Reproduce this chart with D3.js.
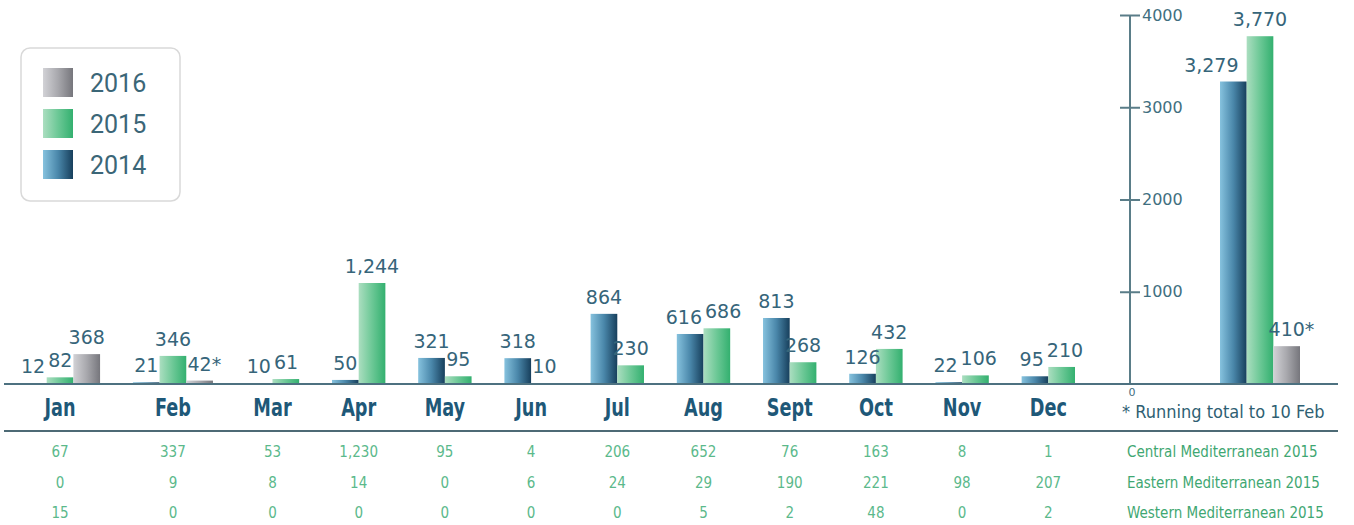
<!DOCTYPE html>
<meta charset="utf-8">
<style>
body { margin:0; background:#fff; }
svg { display:block; }
.lbl { font-family:"DejaVu Sans", sans-serif; font-size:19px; fill:#36657a; }
.month { font-family:"DejaVu Sans Condensed", sans-serif; font-weight:bold; font-size:24px; fill:#1e5878; }
.cell { font-family:"DejaVu Sans Condensed", sans-serif; font-size:15px; fill:#5bb98b; }
.rowname { font-family:"DejaVu Sans Condensed", sans-serif; font-size:15px; fill:#3fa772; }
.note { font-family:"DejaVu Sans Condensed", sans-serif; font-size:18px; fill:#2f5f73; }
.yAxis text { font-family:"DejaVu Sans", sans-serif; font-size:16px; fill:#3f6f80; }
.yAxis path, .yAxis line { stroke:#5a7d88; stroke-width:2px; }
.legend text { font-family:Roboto, sans-serif; font-size:25px; fill:#3b6677; }
</style>
<body>
<div id="chart"></div>
<script src="https://d3js.org/d3.v7.min.js"></script>
<script>
// data
var months = ["Jan","Feb","Mar","Apr","May","Jun","Jul","Aug","Sept","Oct","Nov","Dec"];
var v2014 = [12, 21, 10, 50, 321, 318, 864, 616, 813, 126, 22, 95];
var v2015 = [82, 346, 61, 1244, 95, 10, 230, 686, 268, 432, 106, 210];
var v2016 = [368, 42, null, null, null, null, null, null, null, null, null, null];
var starred2016 = [false, true];            // Feb 2016 is a running total
var totals = [3279, 3770, 410];              // 2014, 2015, 2016
var totalStar = [false, false, true];
var years = ["2014", "2015", "2016"];
var legendYears = ["2016", "2015", "2014"];
var axisTicks = [1000, 2000, 3000, 4000];
var rowNames = ["Central Mediterranean 2015", "Eastern Mediterranean 2015", "Western Mediterranean 2015"];
var central2015 = [67, 337, 53, 1230, 95, 4, 206, 652, 76, 163, 8, 1];
var eastern2015 = [0, 9, 8, 14, 0, 6, 24, 29, 190, 221, 98, 207];
var western2015 = [15, 0, 0, 0, 0, 0, 0, 5, 2, 48, 0, 2];
var noteText = "* Running total to 10 Feb";

var W = 1354, H = 525;
var base = 384;
var fmt = d3.format(",");

var svg = d3.select("#chart").append("svg").attr("width", W).attr("height", H);

// gradients for the bar fills
var grads = {
  "2014": ["#86c2de", "#4a87aa", "#173f5c"],
  "2015": ["#abdec0", "#6cc896", "#33b06f"],
  "2016": ["#d2d2d6", "#a8a8ad", "#76767c"]
};
var defs = svg.append("defs");
Object.keys(grads).forEach(function(k) {
  var g = defs.append("linearGradient").attr("id", "g" + k)
    .attr("x1", 0).attr("x2", 1).attr("y1", 0).attr("y2", 0);
  grads[k].forEach(function(c, i) {
    g.append("stop").attr("offset", i / 2).attr("stop-color", c);
  });
});

// build the bar list: groups laid out one after another with a fixed gap
var gapUnits = 1.23;
var bars = [], groups = [], pos = 0;
months.forEach(function(m, i) {
  var vals = [v2014[i], v2015[i], v2016[i]];
  var start = pos;
  var list = [];
  vals.forEach(function(v, j) {
    if (v == null) return;
    var b = {month: m, year: years[j], value: v, u: pos,
             star: j == 2 && starred2016[i]};
    bars.push(b); list.push(b);
    pos += 1;
  });
  groups.push({month: m, mid: (start + pos) / 2, i: i, bars: list});
  pos += gapUnits;
});
var totalUnits = pos - gapUnits;

var x = d3.scaleLinear().domain([0, totalUnits]).range([20, 1075]);
var bw = x(1) - x(0);
var yMonth = d3.scaleLinear().domain([0, 1244]).range([base, 283]);

// totals part with its own axis
var xTot = d3.scaleLinear().domain([0, 3]).range([1220, 1300]);
var yTot = d3.scaleLinear().domain([0, 4000]).range([base, 15]);

// monthly bars
svg.selectAll("rect.bar")
  .data(bars)
  .enter().append("rect")
  .attr("class", "bar")
  .attr("x", function(d) { return x(d.u); })
  .attr("width", bw)
  .attr("y", function(d) { return yMonth(d.value); })
  .attr("height", function(d) { return base - yMonth(d.value); })
  .attr("fill", function(d) { return "url(#g" + d.year + ")"; });

// totals bars
totals.forEach(function(v, j) {
  svg.append("rect")
    .attr("x", xTot(j)).attr("width", xTot(1) - xTot(0))
    .attr("y", yTot(v)).attr("height", base - yTot(v))
    .attr("fill", "url(#g" + years[j] + ")");
});

// value labels, pushed apart sideways when neighbours collide
function addLabel(cx, yTop, value, star) {
  var g = svg.append("g");
  var t = g.append("text").attr("class", "lbl")
    .attr("x", 0).attr("y", yTop - 10)
    .attr("text-anchor", "middle")
    .text(fmt(value));
  var w = t.node().getComputedTextLength();
  if (star) {
    g.append("text").attr("class", "lbl")
      .attr("x", w / 2).attr("y", yTop - 10)
      .text("*");
  }
  return {g: g, cx: cx, w: w, top: yTop - 24, bot: yTop - 10};
}
function placeGroup(labels) {
  for (var i = 0; i < labels.length - 1; i++) {
    var a = labels[i], b = labels[i + 1];
    var vOverlap = a.top < b.bot && b.top < a.bot;
    var over = (a.cx + a.w / 2 + 3) - (b.cx - b.w / 2);
    if (vOverlap && over > 0) { a.cx -= over / 2; b.cx += over / 2; }
  }
  labels.forEach(function(l) { l.g.attr("transform", "translate(" + l.cx + ",0)"); });
}
groups.forEach(function(gr) {
  placeGroup(gr.bars.map(function(d) {
    return addLabel(x(d.u + 0.5), yMonth(d.value), d.value, d.star);
  }));
});
var totLabels = totals.map(function(v, j) {
  return addLabel(xTot(j + 0.5), yTot(v), v, totalStar[j]);
});
totLabels[0].cx -= 22;   // the reference tucks the 2014 total to the left
placeGroup(totLabels);

// right axis, ticks cross the line
var axisX = 1130;
var ax = svg.append("g").attr("class", "yAxis")
  .attr("transform", "translate(" + axisX + ",0)")
  .call(d3.axisRight(yTot).tickValues(axisTicks).tickFormat(d3.format("d"))
    .tickSize(10).tickSizeOuter(0).tickPadding(2));
ax.selectAll(".tick line").attr("x1", -10);
ax.select(".domain").attr("d", "M0," + yTot(4000) + "V" + yTot(0));
svg.append("text")
  .attr("x", axisX + 2).attr("y", base + 12)
  .attr("text-anchor", "middle")
  .style("font-family", "DejaVu Sans").style("font-size", "11px").style("fill", "#3f6f80")
  .text("0");

// baseline and separator
svg.append("line").attr("x1", 4).attr("x2", 1338).attr("y1", base).attr("y2", base)
  .attr("stroke", "#4d7180").attr("stroke-width", 2);
svg.append("line").attr("x1", 4).attr("x2", 1338).attr("y1", 431).attr("y2", 431)
  .attr("stroke", "#4d6a75").attr("stroke-width", 2);

// month names (squeezed a little to look like a narrow bold face)
svg.selectAll("text.month")
  .data(groups)
  .enter().append("text")
  .attr("class", "month")
  .attr("transform", function(d) { return "translate(" + x(d.mid) + ",416) scale(0.82,1)"; })
  .attr("text-anchor", "middle")
  .text(function(d) { return d.month; });

svg.append("text").attr("class", "note").attr("x", 1122).attr("y", 418).text(noteText);

// table rows
var rows = [central2015, eastern2015, western2015];
var rowY = [457, 488, 518];
rows.forEach(function(r, k) {
  groups.forEach(function(g) {
    svg.append("text").attr("class", "cell")
      .attr("x", x(g.mid)).attr("y", rowY[k])
      .attr("text-anchor", "middle")
      .text(fmt(r[g.i]));
  });
  svg.append("text").attr("class", "rowname")
    .attr("x", 1127).attr("y", rowY[k]).text(rowNames[k]);
});

// legend
var lg = svg.append("g").attr("class", "legend");
lg.append("rect").attr("x", 21).attr("y", 48).attr("width", 159).attr("height", 153)
  .attr("rx", 9).attr("fill", "#fff").attr("stroke", "#d9d9d9").attr("stroke-width", 1.5);
legendYears.forEach(function(yr, i) {
  lg.append("rect").attr("x", 43).attr("y", 68 + i * 41).attr("width", 30).attr("height", 29)
    .attr("fill", "url(#g" + yr + ")");
  lg.append("text").attr("x", 90).attr("y", 92 + i * 41).text(yr);
});
</script>
</body>
